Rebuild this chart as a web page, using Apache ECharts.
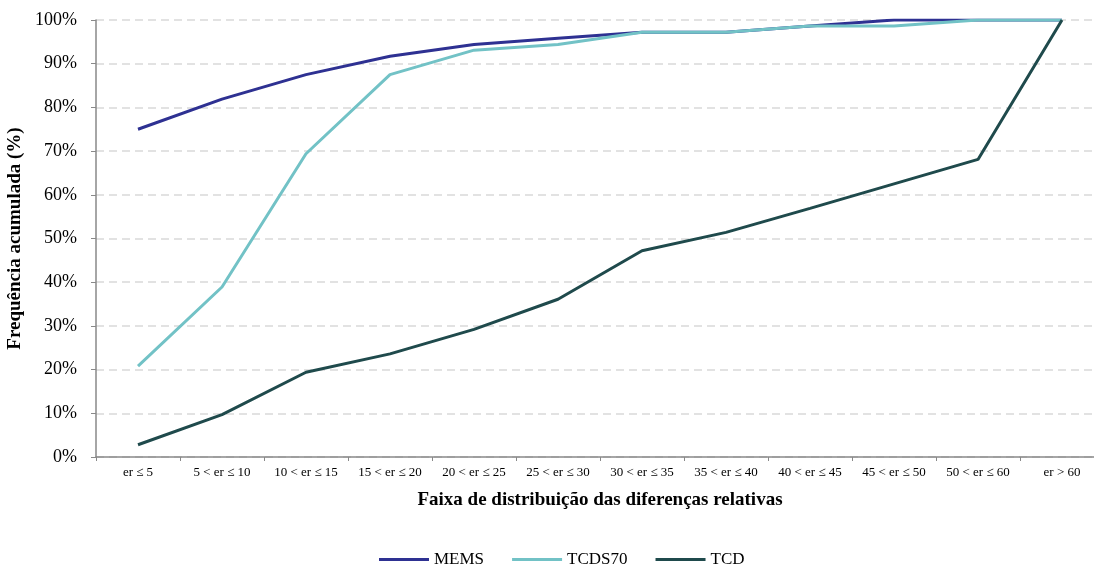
<!DOCTYPE html>
<html><head><meta charset="utf-8">
<script src="https://cdn.jsdelivr.net/npm/echarts@6/dist/echarts.min.js"></script>
<style>html,body{margin:0;padding:0;background:#fff}#c{width:1094px;height:566px}</style>
</head><body><div id="c"></div>
<script>
const categories = ['er ≤ 5','5 < er ≤ 10','10 < er ≤ 15','15 < er ≤ 20','20 < er ≤ 25','25 < er ≤ 30','30 < er ≤ 35','35 < er ≤ 40','40 < er ≤ 45','45 < er ≤ 50','50 < er ≤ 60','er > 60'];
const mems =   [75.0, 81.9, 87.5, 91.7, 94.4, 95.8, 97.2, 97.2, 98.6, 100, 100, 100];
const tcds70 = [20.8, 38.9, 69.4, 87.5, 93.1, 94.4, 97.2, 97.2, 98.6, 98.6, 100, 100];
const tcd =    [2.8, 9.7, 19.4, 23.6, 29.2, 36.1, 47.2, 51.4, 56.9, 62.5, 68.1, 100];
const FONT = '"Liberation Serif","Times New Roman",serif';
const chart = echarts.init(document.getElementById('c'));
function ser(name, data, color){
  return {name, type:'line', data, symbol:'none', smooth:false,
    lineStyle:{color, width:3}, itemStyle:{color}};
}
chart.setOption({
  animation:false,
  textStyle:{fontFamily:FONT},
  grid:{left:96, top:20, width:1008, bottom:109, containLabel:false, outerBoundsMode:'none'},
  legend:{top:546, left:374, itemWidth:50, itemHeight:3, itemGap:28, icon:'rect',
    textStyle:{fontFamily:FONT, fontSize:17, color:'#000'},
    data:['MEMS','TCDS70','TCD']},
  xAxis:{type:'category', data:categories, boundaryGap:true,
    name:'Faixa de distribuição das diferenças relativas', nameLocation:'middle', nameGap:34,
    nameTextStyle:{fontFamily:FONT, fontSize:19, fontWeight:'bold', color:'#000'},
    axisLine:{lineStyle:{color:'#898989', width:1.5}},
    axisTick:{show:true, length:4, lineStyle:{color:'#898989'}},
    axisLabel:{fontFamily:FONT, fontSize:13, color:'#000', margin:9, interval:0}},
  yAxis:{type:'value', min:0, max:100, interval:10,
    name:'Frequência acumulada (%)', nameLocation:'middle', nameGap:40, nameRotate:90,
    nameTextStyle:{fontFamily:FONT, fontSize:19, fontWeight:'bold', color:'#000'},
    axisLine:{show:true, lineStyle:{color:'#898989', width:1.5}},
    axisTick:{show:true, length:5, lineStyle:{color:'#898989'}},
    axisLabel:{fontFamily:FONT, fontSize:18, color:'#000', margin:19, formatter:'{value}%'},
    splitLine:{show:true, lineStyle:{color:'#D9D9D9', type:[8,5], width:1.5}}},
  series:[ser('MEMS', mems, '#2E3192'), ser('TCDS70', tcds70, '#72C2C6'), ser('TCD', tcd, '#1F4A4C')]
});
</script></body></html>
